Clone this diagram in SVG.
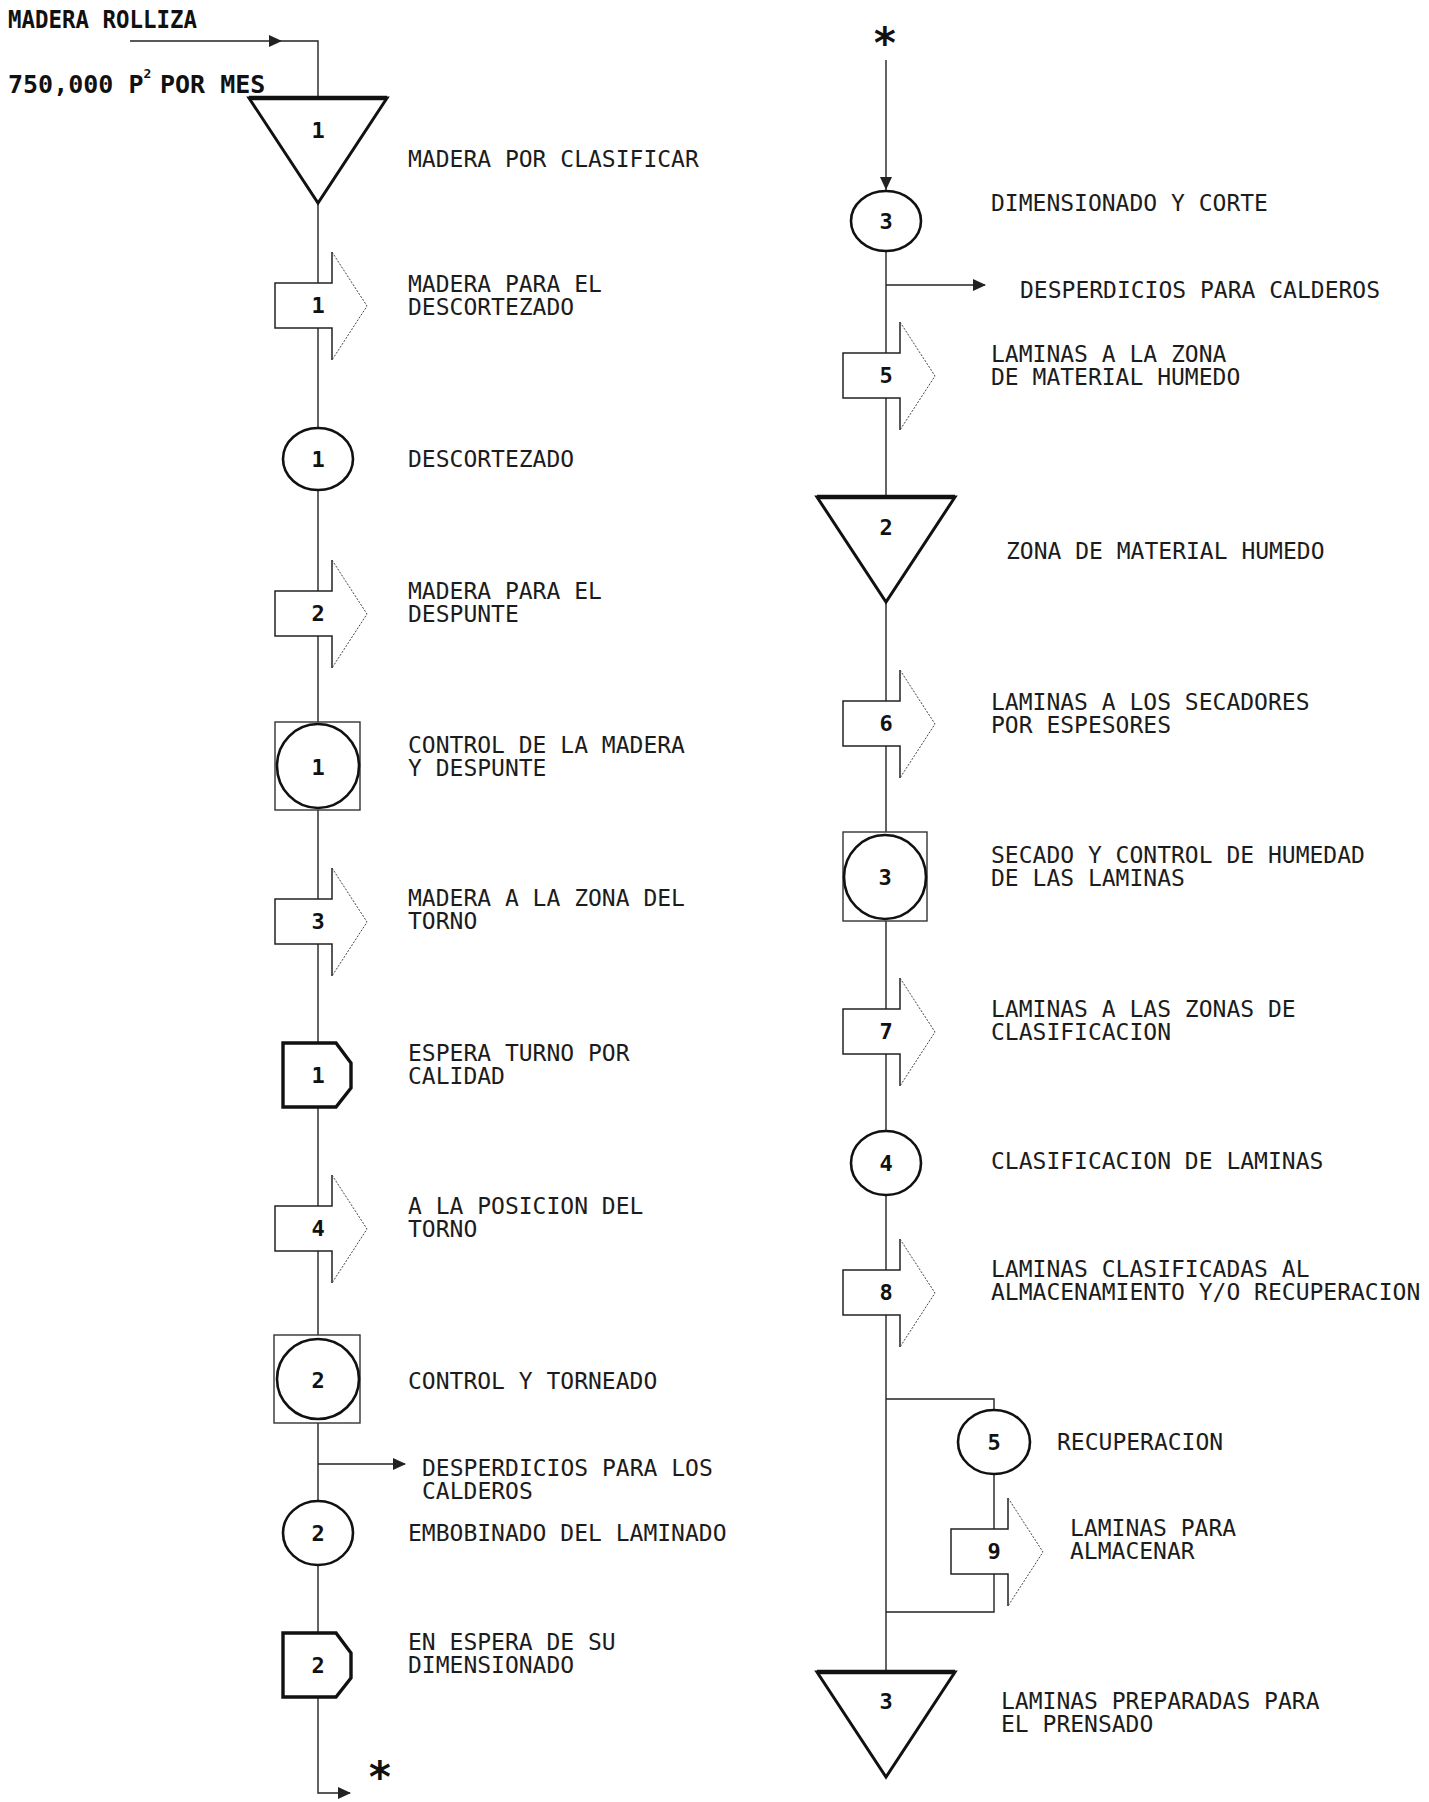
<svg xmlns="http://www.w3.org/2000/svg" xmlns:xlink="http://www.w3.org/1999/xlink" width="1429" height="1802" viewBox="0 0 1429 1802">
<style>
.lb{font-family:"DejaVu Sans Mono","Liberation Mono",monospace;font-size:23px;fill:#1c1c1c}
.bd{font-family:"DejaVu Sans Mono","Liberation Mono",monospace;font-size:25px;font-weight:bold;fill:#111}
.num{font-family:"DejaVu Sans Mono","Liberation Mono",monospace;font-size:22px;font-weight:bold;fill:#111;text-anchor:middle}
.ast{font-family:"DejaVu Sans Mono","Liberation Mono",monospace;font-size:42px;font-weight:bold;fill:#111;text-anchor:middle}
.ln{fill:none;stroke:#222;stroke-width:1.4}
.op{fill:#fff;stroke:#111;stroke-width:2.6}
.sq{fill:#fff;stroke:#333;stroke-width:1.4}
.tri{fill:#fff;stroke:#111;stroke-width:3}
.tritop{fill:none;stroke:#111;stroke-width:4.5}
.dl{fill:#fff;stroke:#111;stroke-width:3.4}
</style>
<defs>
<marker id="ah" markerWidth="13" markerHeight="12" refX="12" refY="6" orient="auto" markerUnits="userSpaceOnUse">
<path d="M0,0 L13,6 L0,12 Z" fill="#222"/>
</marker>
<g id="tarrow">
<polygon points="-43,31 14,31 14,0 49,54 14,108 14,76 -43,76" fill="#fff"/>
<path d="M14,0 V31 H-43 V76 H14 V108" fill="none" stroke="#222" stroke-width="1.5"/>
<path d="M14,0 L49,54 L14,108" fill="none" stroke="#444" stroke-width="1" stroke-dasharray="2,1.5"/>
</g>
<g id="triangle">
<path class="tri" d="M-69,0 H69 L0,105 Z"/>
<path class="tritop" d="M-69,0 H69"/>
</g>
<path id="delay" class="dl" d="M-35,0 H18 L33,20 V45 L18,64 H-35 Z"/>
</defs>
<rect width="1429" height="1802" fill="#fff"/>

<g id="connectors">
<path class="ln" d="M130,41 H281" marker-end="url(#ah)"/>
<path class="ln" d="M281,41 H318 V1793 H350" marker-end="url(#ah)"/>
<path class="ln" d="M318,1464 H405" marker-end="url(#ah)"/>
<path class="ln" d="M886,60 V189" marker-end="url(#ah)"/>
<path class="ln" d="M886,189 V1672"/>
<path class="ln" d="M886,285 H985" marker-end="url(#ah)"/>
<path class="ln" d="M886,1399 H994 V1612 H886"/>
</g>

<g id="input-labels">
<text class="bd" x="8" y="28" textLength="189" lengthAdjust="spacingAndGlyphs">MADERA ROLLIZA</text>
<text class="bd" x="8" y="93" font-size="23">750,000 P<tspan font-size="13" dy="-15">2</tspan><tspan x="160" dy="15">POR MES</tspan></text>
</g>

<g id="almacen1">
<use xlink:href="#triangle" transform="translate(318,98)"/>
<text class="num" x="318" y="138" font-weight="normal">1</text>
<text class="lb" x="408" y="167">MADERA POR CLASIFICAR</text>
</g>

<g id="transporte1">
<use xlink:href="#tarrow" transform="translate(318,252)"/>
<text class="num" x="318" y="313">1</text>
<text class="lb" x="408" y="292">MADERA PARA EL</text>
<text class="lb" x="408" y="315">DESCORTEZADO</text>
</g>

<g id="operacion1">
<ellipse class="op" cx="318" cy="459" rx="35" ry="31"/>
<text class="num" x="318" y="467">1</text>
<text class="lb" x="408" y="467">DESCORTEZADO</text>
</g>

<g id="transporte2">
<use xlink:href="#tarrow" transform="translate(318,560)"/>
<text class="num" x="318" y="621">2</text>
<text class="lb" x="408" y="599">MADERA PARA EL</text>
<text class="lb" x="408" y="622">DESPUNTE</text>
</g>

<g id="combinada1">
<rect class="sq" x="275" y="722" width="85" height="88"/>
<ellipse class="op" cx="318" cy="766" rx="41" ry="42"/>
<text class="num" x="318" y="775">1</text>
<text class="lb" x="408" y="753">CONTROL DE LA MADERA</text>
<text class="lb" x="408" y="776">Y DESPUNTE</text>
</g>

<g id="transporte3">
<use xlink:href="#tarrow" transform="translate(318,868)"/>
<text class="num" x="318" y="929">3</text>
<text class="lb" x="408" y="906">MADERA A LA ZONA DEL</text>
<text class="lb" x="408" y="929">TORNO</text>
</g>

<g id="demora1">
<use xlink:href="#delay" transform="translate(318,1043)"/>
<text class="num" x="318" y="1083">1</text>
<text class="lb" x="408" y="1061">ESPERA TURNO POR</text>
<text class="lb" x="408" y="1084">CALIDAD</text>
</g>

<g id="transporte4">
<use xlink:href="#tarrow" transform="translate(318,1175)"/>
<text class="num" x="318" y="1236">4</text>
<text class="lb" x="408" y="1214">A LA POSICION DEL</text>
<text class="lb" x="408" y="1237">TORNO</text>
</g>

<g id="combinada2">
<rect class="sq" x="274" y="1335" width="86" height="88"/>
<ellipse class="op" cx="318" cy="1379" rx="41" ry="40"/>
<text class="num" x="318" y="1388">2</text>
<text class="lb" x="408" y="1389">CONTROL Y TORNEADO</text>
</g>

<g id="desperdicio1">
<text class="lb" x="422" y="1476">DESPERDICIOS PARA LOS</text>
<text class="lb" x="422" y="1499">CALDEROS</text>
</g>

<g id="operacion2">
<ellipse class="op" cx="318" cy="1533" rx="35" ry="32"/>
<text class="num" x="318" y="1541">2</text>
<text class="lb" x="408" y="1541">EMBOBINADO DEL LAMINADO</text>
</g>

<g id="demora2">
<use xlink:href="#delay" transform="translate(318,1633)"/>
<text class="num" x="318" y="1673">2</text>
<text class="lb" x="408" y="1650">EN ESPERA DE SU</text>
<text class="lb" x="408" y="1673">DIMENSIONADO</text>
</g>

<g id="conector-salida">
<text class="ast" x="380" y="1792">*</text>
</g>

<g id="conector-entrada">
<text class="ast" x="885" y="58">*</text>
</g>

<g id="operacion3">
<ellipse class="op" cx="886" cy="221" rx="35" ry="30"/>
<text class="num" x="886" y="229">3</text>
<text class="lb" x="991" y="211">DIMENSIONADO Y CORTE</text>
</g>

<g id="desperdicio2">
<text class="lb" x="1020" y="298">DESPERDICIOS PARA CALDEROS</text>
</g>

<g id="transporte5">
<use xlink:href="#tarrow" transform="translate(886,322)"/>
<text class="num" x="886" y="383">5</text>
<text class="lb" x="991" y="362">LAMINAS A LA ZONA</text>
<text class="lb" x="991" y="385">DE MATERIAL HUMEDO</text>
</g>

<g id="almacen2">
<use xlink:href="#triangle" transform="translate(886,497)"/>
<text class="num" x="886" y="535">2</text>
<text class="lb" x="1006" y="559">ZONA DE MATERIAL HUMEDO</text>
</g>

<g id="transporte6">
<use xlink:href="#tarrow" transform="translate(886,670)"/>
<text class="num" x="886" y="731">6</text>
<text class="lb" x="991" y="710">LAMINAS A LOS SECADORES</text>
<text class="lb" x="991" y="733">POR ESPESORES</text>
</g>

<g id="combinada3">
<rect class="sq" x="843" y="832" width="84" height="89"/>
<ellipse class="op" cx="885" cy="877" rx="41" ry="42"/>
<text class="num" x="885" y="885">3</text>
<text class="lb" x="991" y="863">SECADO Y CONTROL DE HUMEDAD</text>
<text class="lb" x="991" y="886">DE LAS LAMINAS</text>
</g>

<g id="transporte7">
<use xlink:href="#tarrow" transform="translate(886,978)"/>
<text class="num" x="886" y="1039">7</text>
<text class="lb" x="991" y="1017">LAMINAS A LAS ZONAS DE</text>
<text class="lb" x="991" y="1040">CLASIFICACION</text>
</g>

<g id="operacion4">
<ellipse class="op" cx="886" cy="1163" rx="35" ry="32"/>
<text class="num" x="886" y="1171">4</text>
<text class="lb" x="991" y="1169">CLASIFICACION DE LAMINAS</text>
</g>

<g id="transporte8">
<use xlink:href="#tarrow" transform="translate(886,1239)"/>
<text class="num" x="886" y="1300">8</text>
<text class="lb" x="991" y="1277">LAMINAS CLASIFICADAS AL</text>
<text class="lb" x="991" y="1300">ALMACENAMIENTO Y/O RECUPERACION</text>
</g>

<g id="operacion5">
<ellipse class="op" cx="994" cy="1442" rx="36" ry="32"/>
<text class="num" x="994" y="1450">5</text>
<text class="lb" x="1057" y="1450">RECUPERACION</text>
</g>

<g id="transporte9">
<use xlink:href="#tarrow" transform="translate(994,1498)"/>
<text class="num" x="994" y="1559">9</text>
<text class="lb" x="1070" y="1536">LAMINAS PARA</text>
<text class="lb" x="1070" y="1559">ALMACENAR</text>
</g>

<g id="almacen3">
<use xlink:href="#triangle" transform="translate(886,1672)"/>
<text class="num" x="886" y="1709" font-weight="normal">3</text>
<text class="lb" x="1001" y="1709">LAMINAS PREPARADAS PARA</text>
<text class="lb" x="1001" y="1732">EL PRENSADO</text>
</g>
</svg>
